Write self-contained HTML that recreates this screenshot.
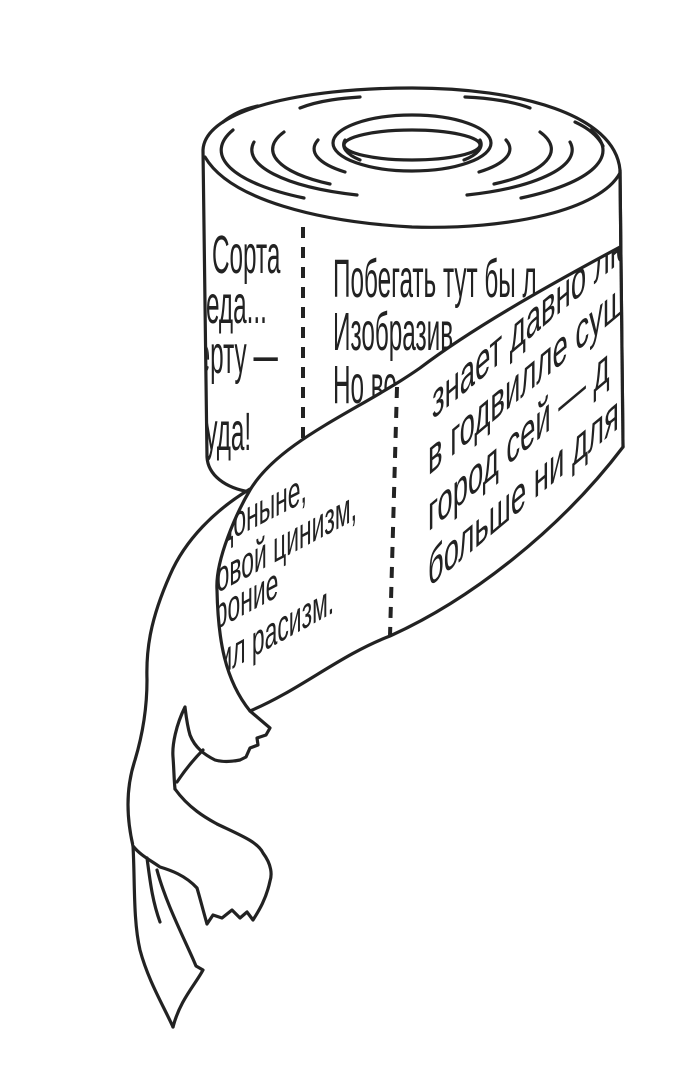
<!DOCTYPE html>
<html><head><meta charset="utf-8"><style>
html,body{margin:0;padding:0;background:#fff;width:700px;height:1074px;overflow:hidden}
svg{display:block}
text{font-family:"Liberation Sans","DejaVu Sans",sans-serif;fill:#222}
</style></head><body>
<svg width="700" height="1074" viewBox="0 0 700 1074" xmlns="http://www.w3.org/2000/svg">
<defs>
<clipPath id="body"><path d="M206,200 L620,170 L623,450 L250,492 L208,462 Z"/></clipPath>
<clipPath id="rib"><path d="M620,247 C540,290 470,330 420,368 C360,410 280,440 250,490 C237,512 215,560 217,590 C218,640 225,680 250,711 C300,690 340,655 390,636 C470,600 560,530 623,447 Z"/></clipPath>
</defs>
<g fill="none" stroke="#222" stroke-width="3.2" stroke-linecap="round" stroke-linejoin="round">
<path fill="#fff" d="M203,150 C205,110 300,88 412,88 C520,88 615,115 620,170 L623,447 L250,492 C225,488 208,475 207,457 Z"/>
<path d="M205,157 C230,200 320,222 412,227 C510,230 600,210 620,173"/>
<ellipse cx="412" cy="143" rx="79" ry="28"/>
<ellipse cx="412" cy="145" rx="68" ry="15"/>
<path d="M233,130 A190 58 0 0 0 304,198"/>
<path d="M254,142 A160 48 0 0 0 357,195"/>
<path d="M284,132 A130 42 0 0 0 330,184"/>
<path d="M318,140 A100 32 0 0 0 345,172"/>
<path d="M345,140 A70 24 0 0 0 360,160"/>
<path d="M591,130 A190 58 0 0 1 521,198"/>
<path d="M570,142 A160 48 0 0 1 467,195"/>
<path d="M540,132 A130 42 0 0 1 494,184"/>
<path d="M506,140 A100 32 0 0 1 479,172"/>
<path d="M480,140 A70 24 0 0 1 464,160"/>
<path d="M223,122 C235,112 248,108 258,106"/>
<path d="M300,108 C320,100 345,98 360,97"/>
<path d="M465,97 C490,98 515,102 530,108"/>
<path d="M575,122 C588,128 598,136 603,146"/>
</g>
<g clip-path="url(#body)" font-size="54">
<text transform="translate(212,273) scale(0.45,1)">Сорта</text>
<text transform="translate(190,323) scale(0.45,1)">Беда...</text>
<text transform="translate(184,373) scale(0.45,1)">черту —</text>
<text transform="translate(194,450) scale(0.45,1)">туда!</text>
<text transform="translate(333,297) scale(0.45,1)">Побегать тут бы л</text>
<text transform="translate(333,350) scale(0.45,1)">Изобразив</text>
<text transform="translate(333,403) scale(0.45,1)">Но во</text>
</g>
<line x1="303" y1="227" x2="303" y2="470" stroke="#222" stroke-width="4" stroke-dasharray="11 9"/>
<g fill="none" stroke="#222" stroke-width="3.2" stroke-linecap="round" stroke-linejoin="round">
<path fill="#fff" d="M250,489 C215,510 185,540 170,575 C150,620 146,650 147,680 C147,705 144,730 135,760 C125,790 127,820 133,846 C135,880 133,920 140,950 C148,980 163,1005 173,1027 C180,1000 195,985 203,970 L196,966 L193,959 C180,930 165,900 157,870 L250,711 Z" stroke="none"/>
<path d="M250,489 C215,510 185,540 170,575 C150,620 146,650 147,680 C147,705 144,730 135,760 C125,790 127,820 133,846 C135,880 133,920 140,950 C148,980 163,1005 173,1027"/>
<path d="M173,1027 C180,1000 195,985 203,970 L196,966 L193,959 C180,930 165,900 157,870"/>
<path fill="#fff" d="M175,789 C190,810 210,820 217,824 C240,835 258,842 263,853 C272,865 272,875 270,881 C266,900 258,912 253,920 L247,912 L240,918 L232,910 L222,918 L213,915 L207,924 C203,910 200,898 197,888 C185,875 170,870 160,867 C150,860 140,855 133,846"/>
<path d="M147,858 C150,880 152,900 160,922"/>
<path fill="#fff" d="M250,711 L270,728 L266,735 L257,738 L258,745 L250,748 L246,757 L240,760 C230,762 222,762 215,760 C205,755 195,748 190,735 C187,725 186,715 185,707 C176,725 172,745 173,757 C174,770 174,780 175,789"/>
<path d="M177,782 C185,770 195,758 203,750"/>
<path fill="#fff" d="M620,247 C540,290 470,330 420,368 C360,410 280,440 250,490 C237,512 215,560 217,590 C218,640 225,680 250,711 C300,690 340,655 390,636 C470,600 560,530 623,447"/>
</g>
<g clip-path="url(#rib)">
<g font-size="50">
<text transform="translate(432,420) skewY(-40) scale(0.55,1)">знает давно любо</text>
<text transform="translate(428,476) skewY(-40) scale(0.55,1)">в годвилле сущ</text>
<text transform="translate(428,532) skewY(-40) scale(0.55,1)">город сей — д</text>
<text transform="translate(428,588) skewY(-40) scale(0.55,1)">больше ни для</text>
</g>
<g font-size="44">
<text transform="translate(220,545) skewY(-27) scale(0.52,1)">доныне,</text>
<text transform="translate(204,600) skewY(-28) scale(0.52,1)">новой цинизм,</text>
<text transform="translate(202,637) skewY(-28) scale(0.52,1)">ироние</text>
<text transform="translate(208,682) skewY(-29) scale(0.52,1)">сил расизм.</text>
</g>
</g>
<line x1="397" y1="387" x2="390" y2="636" stroke="#222" stroke-width="4" stroke-dasharray="11 9"/>
<path d="M620,170 L623,447" fill="none" stroke="#222" stroke-width="3.2"/>
</svg>
</body></html>
